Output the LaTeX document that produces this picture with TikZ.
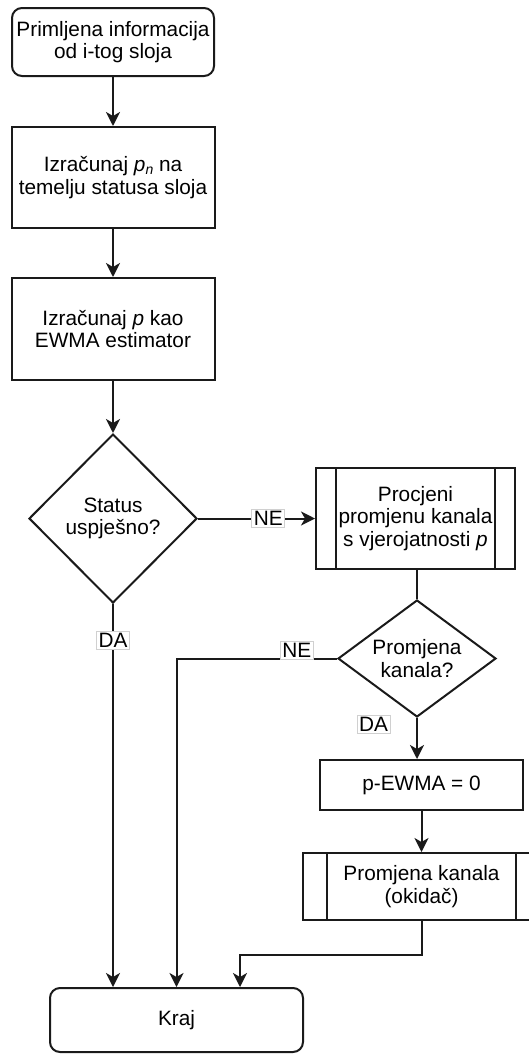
\documentclass[tikz,border=0pt]{standalone}
\usepackage{fontspec}
\setmainfont{Liberation Sans}
\usetikzlibrary{calc,arrows.meta,positioning,shapes.geometric}
\definecolor{linec}{HTML}{1A1A1A}
\definecolor{lblc}{HTML}{D0D0D0}
\tikzset{
  ar/.style={-{Stealth[length=7pt,width=7pt,inset=2pt]},line width=1pt,linec},
  ln/.style={line width=1pt,linec},
  box/.style={draw=linec,line width=1pt,align=center,inner sep=2pt,font=\fontsize{10.4}{11.3}\selectfont},
  rbox/.style={box,rounded corners=5pt},
  dec/.style={box,diamond,aspect=1,inner sep=0pt},
  subproc/.style={box,path picture={
    \draw[ln] ([xshift=#1]path picture bounding box.north west) -- ([xshift=#1]path picture bounding box.south west)
              ([xshift=-#1]path picture bounding box.north east) -- ([xshift=-#1]path picture bounding box.south east);}},
  lbl/.style={fill=white,draw=lblc,line width=0.4pt,inner sep=1pt,text=black,font=\fontsize{10.4}{11.3}\selectfont}
}
\begin{document}
\begin{tikzpicture}[x=0.5pt,y=-0.5pt]
\useasboundingbox (0,0) rectangle (529,1055);
% left column
\node[rbox,minimum width=101pt,minimum height=34pt] (start) at (113,42) {Primljena informacija\\od i-tog sloja};
\node[box,minimum width=101.5pt,minimum height=50.5pt] (pn) at (113,177.5) {Izračunaj \textit{p}\raisebox{-0.3ex}{\scriptsize\textit{n}} na\\temelju statusa sloja};
\node[box,minimum width=101.5pt,minimum height=51pt] (ewma) at (113,329) {Izračunaj \textit{p} kao\\EWMA estimator};
\node[dec,minimum width=84pt,minimum height=84.5pt] (status) at (113,518.5) {Status\\uspješno?};
% right column
\node[box,subproc=10pt,minimum width=99.5pt,minimum height=50.5pt] (proc) at (415.5,518.5) {Procjeni\\promjenu kanala\\s vjerojatnosti \textit{p}};
\node[dec,aspect=1.35,minimum width=79pt,minimum height=58.5pt] (chg) at (417,658.5) {Promjena\\kanala?};
\node[box,minimum width=101.5pt,minimum height=25pt] (reset) at (421.5,785) {p-EWMA = 0};
\node[box,subproc=12pt,minimum width=118.5pt,minimum height=33.5pt] (trig) at (421.5,886.5) {Promjena kanala\\(okidač)};
\node[rbox,minimum width=126.5pt,minimum height=32pt] (kraj) at (176.5,1020) {Kraj};

\draw[ar] (start) -- (pn);
\draw[ar] (pn) -- (ewma);
\draw[ar] (ewma) -- (status);
\draw[ar] (status) -- node[lbl,pos=0.6]{NE} (proc);
\draw[ln] (chg.north |- proc.south) -- (chg.north);
\draw[ar] (chg.south) -- node[lbl,pos=0.16,xshift=-21.75pt]{DA} (chg.south |- reset.north);
\draw[ar] (reset) -- (trig);
\draw[ar] (trig.south) -- ++(0,34) -| ($(kraj.north)+(63.5,0)$);
\draw[ar] (status.south) -- node[lbl,pos=0.095]{DA} (status.south |- kraj.north);
\draw[ar] (chg.west) -| node[lbl,pos=0.125,yshift=4pt]{NE} (kraj.north);
\end{tikzpicture}
\end{document}
